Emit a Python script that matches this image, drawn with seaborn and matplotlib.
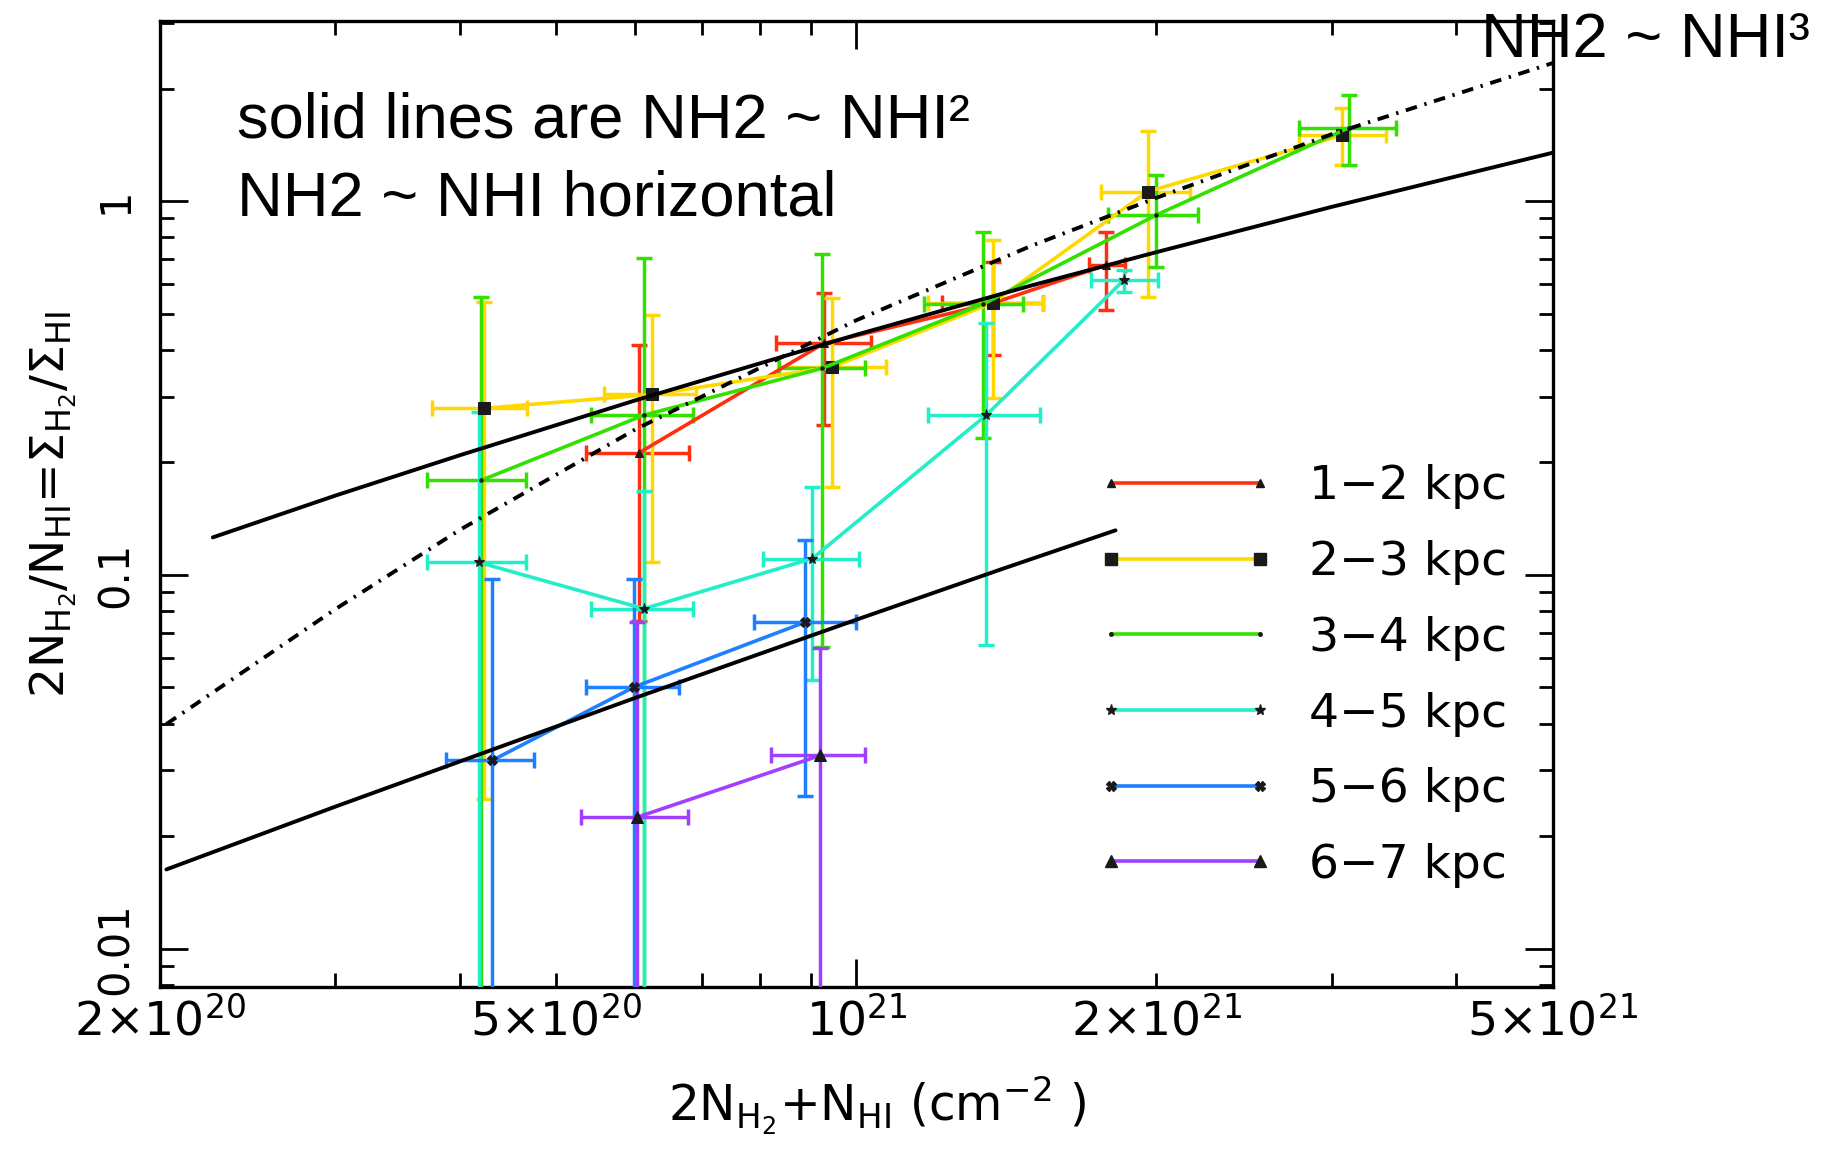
"""H2/HI ratio vs total column density, per radial ring, with NH2~NHI^n model curves."""

import numpy as np
import matplotlib
matplotlib.use("Agg")
import matplotlib.pyplot as plt
import seaborn as sns
from matplotlib.lines import Line2D
from matplotlib.ticker import NullFormatter

# model curves
quad_hi_n = [2.26e20, 3e20, 4e20, 6e20, 1e21, 1.5e21, 2e21, 3e21, 5e21]
quad_hi_r = [0.126, 0.163, 0.209, 0.293, 0.439, 0.595, 0.730, 0.965, 1.347]
quad_lo_n = [2.03e20, 3e20, 4e20, 6e20, 1e21, 1.4e21, 1.82e21]
quad_lo_r = [0.0163, 0.0240, 0.0317, 0.0469, 0.0759, 0.1037, 0.1316]
cube_n = [2.03e20, 3e20, 4e20, 6e20, 1e21, 1.5e21, 2e21, 3e21, 5e21]
cube_r = [0.0399, 0.081, 0.132, 0.245, 0.48, 0.76, 1.02, 1.51, 2.34]

# rings: points and error bar ends (lower ends below 0.008 run off the axis)
ring_labels = ["1−2 kpc", "2−3 kpc", "3−4 kpc", "4−5 kpc", "5−6 kpc", "6−7 kpc"]
ring_n = [
    [6.05e20, 9.27e20, 1.37e21, 1.78e21],
    [4.23e20, 6.24e20, 9.46e20, 1.37e21, 1.96e21, 3.07e21],
    [4.20e20, 6.12e20, 9.24e20, 1.34e21, 2.0e21, 3.12e21],
    [4.18e20, 6.12e20, 9.03e20, 1.35e21, 1.856e21],
    [4.31e20, 5.98e20, 8.89e20],
    [6.03e20, 9.20e20],
]
ring_n_lo = [
    [5.35e20, 8.3e20, 1.22e21, 1.71e21],
    [3.75e20, 5.58e20, 8.35e20, 1.18e21, 1.76e21, 2.78e21],
    [3.71e20, 5.41e20, 8.37e20, 1.17e21, 1.79e21, 2.78e21],
    [3.71e20, 5.41e20, 8.05e20, 1.18e21, 1.72e21],
    [3.87e20, 5.35e20, 7.89e20],
    [5.29e20, 8.2e20],
]
ring_n_hi = [
    [6.79e20, 1.035e21, 1.54e21, 1.86e21],
    [4.67e20, 6.90e20, 1.07e21, 1.54e21, 2.16e21, 3.40e21],
    [4.66e20, 6.85e20, 1.02e21, 1.47e21, 2.2e21, 3.48e21],
    [4.66e20, 6.85e20, 1.006e21, 1.53e21, 2.01e21],
    [4.75e20, 6.64e20, 9.98e20],
    [6.77e20, 1.02e21],
]
ring_r = [
    [0.212, 0.416, 0.533, 0.674],
    [0.279, 0.304, 0.360, 0.534, 1.06, 1.50],
    [0.179, 0.2675, 0.357, 0.530, 0.918, 1.57],
    [0.108, 0.0812, 0.1106, 0.2675, 0.615],
    [0.0319, 0.0501, 0.0748],
    [0.0225, 0.0329],
]
ring_r_lo = [
    [0.0755, 0.2515, 0.387, 0.511],
    [0.0252, 0.108, 0.172, 0.297, 0.555, 1.25],
    [0.001, 0.001, 0.064, 0.232, 0.667, 1.25],
    [0.001, 0.001, 0.0522, 0.0648, 0.5716],
    [0.001, 0.001, 0.0257],
    [0.001, 0.001],
]
ring_r_hi = [
    [0.412, 0.566, 0.689, 0.828],
    [0.538, 0.496, 0.549, 0.787, 1.54, 1.77],
    [0.555, 0.703, 0.721, 0.828, 1.175, 1.92],
    [0.273, 0.168, 0.172, 0.471, 0.653],
    [0.0977, 0.0977, 0.1243],
    [0.0748, 0.0636],
]

colors = ["#ff3010", "#ffd800", "#33e000", "#22eec8", "#1e7fff", "#a040ff"]
markers = ["^", "s", ".", "*", "X", "^"]
msizes = [6, 9, 5, 8, 7, 9]

sns.set_theme(style="ticks", rc={
    "axes.edgecolor": "black", "xtick.color": "black", "ytick.color": "black",
    "text.color": "black", "axes.labelcolor": "black",
})
plt.rcParams["font.family"] = ["DejaVu Sans"]
plt.rcParams["mathtext.fontset"] = "dejavusans"

fig = plt.figure(figsize=(18.34, 11.52), dpi=100)
ax = fig.add_axes([0.0872, 0.1432, 0.7595, 0.8385])
ax.set_xscale("log")
ax.set_yscale("log")

for i, lab in enumerate(ring_labels):
    n = np.array(ring_n[i])
    r = np.array(ring_r[i])
    xerr = [n - np.array(ring_n_lo[i]), np.array(ring_n_hi[i]) - n]
    yerr = [r - np.array(ring_r_lo[i]), np.array(ring_r_hi[i]) - r]
    ax.errorbar(n, r, xerr=xerr, yerr=yerr, fmt="none", ecolor=colors[i],
                elinewidth=2.5, capsize=6, capthick=2.5, zorder=3)
    sns.lineplot(x=n, y=r, ax=ax, color=colors[i], lw=2.6, marker=markers[i],
                 markersize=msizes[i], markerfacecolor="k", markeredgecolor="k",
                 sort=False, estimator=None, zorder=4)

for n, r, ls in [(quad_hi_n, quad_hi_r, "-"), (quad_lo_n, quad_lo_r, "-"),
                 (cube_n, cube_r, (0, (3, 2, 0.6, 2)))]:
    sns.lineplot(x=n, y=r, ax=ax, color="black", lw=2.8, linestyle=ls,
                 sort=False, estimator=None, zorder=5)

ax.set_xlim(2e20, 5e21)
ax.set_ylim(0.0079, 3.03)

ax.set_xticks([1e21], labels=[r"10$^{21}$"])
minor_x = [2e20, 3e20, 4e20, 5e20, 6e20, 7e20, 8e20, 9e20, 2e21, 3e21, 4e21, 5e21]
minor_xlab = [r"2×10$^{20}$", "", "", r"5×10$^{20}$", "", "", "", "",
              r"2×10$^{21}$", "", "", r"5×10$^{21}$"]
ax.set_xticks(minor_x, labels=minor_xlab, minor=True)

ax.set_yticks([0.01, 0.1, 1], labels=["0.01", "0.1", "1"])
minor_y = [0.008, 0.009] + [k * 0.01 for k in range(2, 10)] + \
          [k * 0.1 for k in range(2, 10)] + [2, 3]
ax.set_yticks(minor_y, minor=True)
ax.yaxis.set_minor_formatter(NullFormatter())

ax.tick_params(which="both", direction="in", top=True, right=True, width=2)
ax.tick_params(which="major", length=20)
ax.tick_params(which="minor", length=10)
ax.tick_params(axis="x", which="both", labelsize=34, pad=8)
ax.tick_params(axis="y", which="major", labelsize=30, pad=17, labelrotation=90)
for t in ax.get_yticklabels():
    t.set_va("center")
for sp in ax.spines.values():
    sp.set_linewidth(2.4)

ax.set_xlabel(r"2N$_{\rm H_2}$+N$_{\rm HI}$ (cm$^{-2}$ )", fontsize=35)
ax.xaxis.set_label_coords(0.515, -0.09)
ax.set_ylabel(r"2N$_{\rm H_2}$/N$_{\rm HI}$=$\Sigma_{\rm H_2}$/$\Sigma_{\rm HI}$", fontsize=34)
ax.yaxis.set_label_coords(-0.058, 0.5)

handles = [Line2D([], [], color=colors[i], lw=2.6, marker=markers[i], ms=msizes[i],
                  mfc="k", mec="k") for i in range(len(ring_labels))]
ax.legend(handles, ring_labels, loc="upper left", bbox_to_anchor=(0.6726, 0.541),
          frameon=False, numpoints=2, handlelength=3.75, handletextpad=0.75,
          labelspacing=0.65, borderpad=0, borderaxespad=0, fontsize=34)

fig.text(0.129, 0.881, "solid lines are NH2 ~ NHI²", fontsize=45.5,
         family="Liberation Sans", va="baseline")
fig.text(0.129, 0.813, "NH2 ~ NHI horizontal", fontsize=45.5,
         family="Liberation Sans", va="baseline")
fig.text(0.8075, 0.9505, "NH2 ~ NHI³", fontsize=45.5,
         family="Liberation Sans", va="baseline")

fig.savefig("out.png", dpi=100)
